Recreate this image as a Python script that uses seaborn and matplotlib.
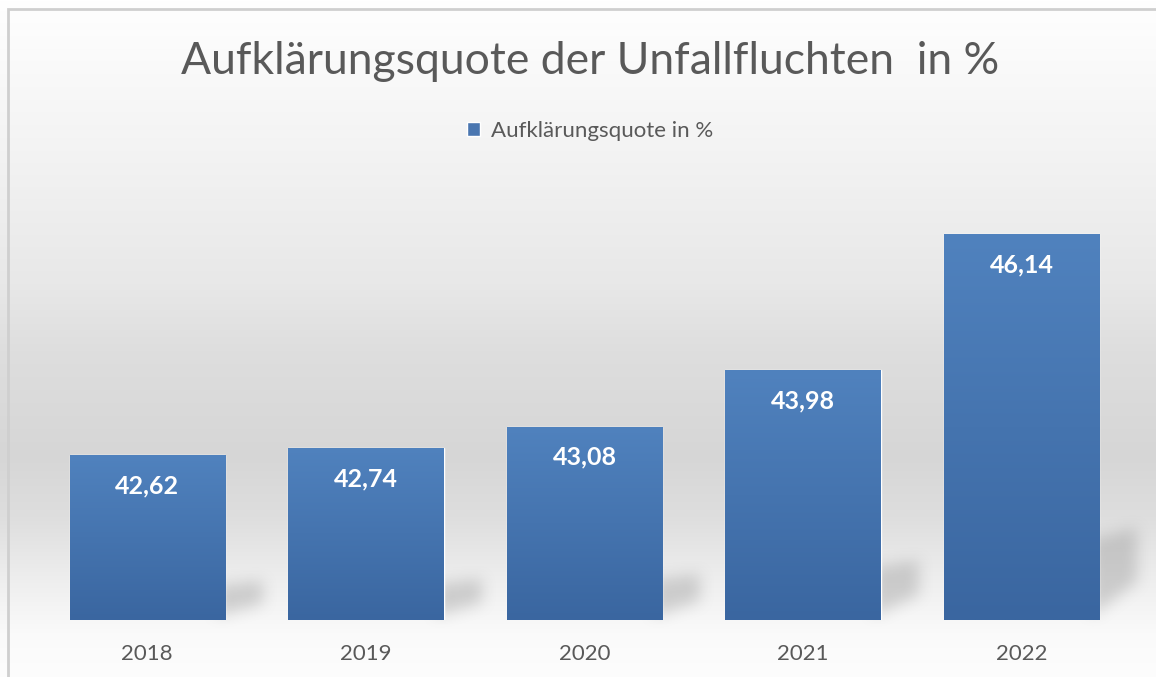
import numpy as np
import pandas as pd
import matplotlib
matplotlib.use("Agg")
import matplotlib.pyplot as plt
import seaborn as sns
from matplotlib.patches import Patch, Rectangle
from matplotlib.path import Path

years = ["2018", "2019", "2020", "2021", "2022"]
quote = [42.62, 42.74, 43.08, 43.98, 46.14]
series_name = "Aufklärungsquote in %"
title = "Aufklärungsquote der Unfallfluchten  in %"

sns.set_theme(style="white")
plt.rcParams["font.family"] = ["Lato", "DejaVu Sans"]

W, H = 1156, 677
fig = plt.figure(figsize=(W / 100, H / 100), dpi=100)

# background gradient
bg = fig.add_axes([0, 0, 1, 1], zorder=0)
bg.axis("off")
ypix = np.array([0, 10, 150, 283, 350, 455, 517, 583, 633, 677])  # from top
gval = np.array([255, 254, 243, 232, 222, 214, 222, 239, 250, 253])
rows = np.interp(np.arange(H), ypix, gval) / 255.0
grad = np.repeat(rows[:, None], 2, axis=1)
bg.imshow(np.dstack([grad, grad, grad]), extent=[0, W, 0, H], aspect="auto",
          origin="upper", zorder=0)
bg.set_xlim(0, W)
bg.set_ylim(0, H)

# main axes
ax = fig.add_axes([38 / W, (H - 620) / H, (1131 - 38) / W, (620 - 180.4) / H], zorder=2)
ax.patch.set_alpha(0)
df = pd.DataFrame({"Jahr": years, "Quote": quote})
sns.barplot(data=df, x="Jahr", y="Quote", color="#4a76b0", width=0.71,
            saturation=1, ax=ax, zorder=2)
ax.set_ylim(40, 47)
ax.set_xlim(-0.5, len(years) - 0.5)
ax.set_xlabel("")
ax.set_ylabel("")
ax.set_yticks([])
for s in ax.spines.values():
    s.set_visible(False)
ax.tick_params(axis="x", length=0, pad=17, labelsize=16, labelcolor="#595959")

# bar gradient
top_c = np.array([80, 130, 190]) / 255
bot_c = np.array([58, 102, 160]) / 255
t = np.linspace(0, 1, 256)[:, None]
bar_grad = (top_c[None, :] * (1 - t) + bot_c[None, :] * t)[:, None, :]
bar_grad = np.repeat(bar_grad, 2, axis=1)
for p, v in zip(ax.patches, quote):
    x0 = p.get_x()
    x1 = x0 + p.get_width()
    im = ax.imshow(bar_grad, extent=[x0, x1, 40, v], aspect="auto",
                   origin="upper", zorder=3)
    im.set_clip_path(p)
    ax.text(x0 + p.get_width() / 2, v - 0.49, f"{v:.2f}".replace(".", ","),
            ha="center", va="center", color="white", fontsize=18,
            fontweight="bold", zorder=4)
ax.set_ylim(40, 47)
ax.set_xlim(-0.5, len(years) - 0.5)

# soft shadows behind bars (in figure pixel space)
yy, xx = np.mgrid[0:H, 0:W]
pts = np.column_stack([xx.ravel() + 0.5, yy.ravel() + 0.5])
mask = np.zeros(H * W)
for p, v in zip(ax.patches, quote):
    (dx0, dyb) = ax.transData.transform((p.get_x(), 40))
    (dx1, dyt) = ax.transData.transform((p.get_x() + p.get_width(), v))
    h = dyt - dyb
    quad = Path([(dx1 - 8, dyb + 4), (dx1 - 8, dyb + 0.21 * h),
                 (dx1 + 38, dyb + 0.24 * h), (dx1 + 38, dyb + 0.10 * h)])
    mask = np.maximum(mask, quad.contains_points(pts).astype(float))
mask = mask.reshape(H, W)
k = np.ones(17) / 17
for _ in range(2):
    mask = np.apply_along_axis(lambda r: np.convolve(r, k, mode="same"), 1, mask)
    mask = np.apply_along_axis(lambda c: np.convolve(c, k, mode="same"), 0, mask)
shadow = np.zeros((H, W, 4))
shadow[..., :3] = 0.5
shadow[..., 3] = mask * 0.32
bg.imshow(shadow, extent=[0, W, 0, H], origin="lower", aspect="auto", zorder=1)
bg.set_xlim(0, W)
bg.set_ylim(0, H)

# border
fig.patches.append(Rectangle((8 / W, -0.01), 1.05, (H - 9) / H + 0.01,
                             transform=fig.transFigure, fill=False,
                             edgecolor="#cfcfcf", linewidth=2, zorder=5))

# title
fig.text(590 / W, 1 - 62 / H, title, ha="center", va="center",
         fontsize=32, color="#595959")

# legend
fig.legend(handles=[Patch(facecolor="#4a76b0", label=series_name)],
           loc="center", bbox_to_anchor=(590 / W, 1 - 131 / H), frameon=False,
           handlelength=0.6, handleheight=0.6, handletextpad=0.5,
           fontsize=16, labelcolor="#595959")

fig.savefig("out.png", dpi=100)
